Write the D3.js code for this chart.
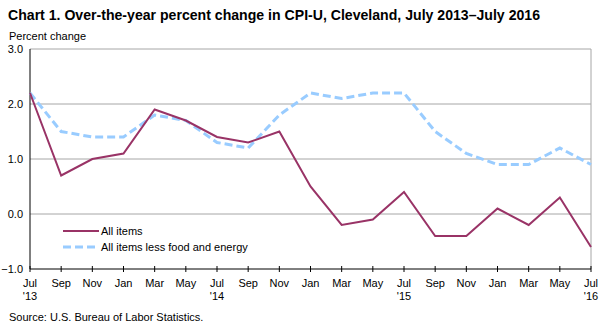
<!DOCTYPE html>
<html>
<head>
<meta charset="utf-8">
<script src="https://cdn.jsdelivr.net/npm/d3@7"></script>
<style>
  body { margin: 0; background: #fff; }
  svg { font-family: Arial, "Liberation Sans", sans-serif; }
</style>
</head>
<body>
<svg id="chart" width="607" height="326"></svg>
<script>
// Data, bi-monthly Jul 2013 - Jul 2016
const months = ["Jul", "Sep", "Nov", "Jan", "Mar", "May", "Jul", "Sep", "Nov", "Jan",
  "Mar", "May", "Jul", "Sep", "Nov", "Jan", "Mar", "May", "Jul"];
const years = ["'13", "", "", "", "", "", "'14", "", "", "", "", "", "'15", "", "", "", "", "", "'16"];
const allItems = [2.2, 0.7, 1.0, 1.1, 1.9, 1.7, 1.4, 1.3, 1.5, 0.5, -0.2, -0.1, 0.4, -0.4, -0.4, 0.1, -0.2, 0.3, -0.6];
const lessFoodEnergy = [2.2, 1.5, 1.4, 1.4, 1.8, 1.7, 1.3, 1.2, 1.8, 2.2, 2.1, 2.2, 2.2, 1.5, 1.1, 0.9, 0.9, 1.2, 0.9];
const yTicks = [-1, 0, 1, 2, 3];

const svg = d3.select("#chart");
const plotL = 30, plotR = 591, plotT = 49, plotB = 269;

const x = d3.scaleLinear().domain([0, months.length - 1]).range([plotL, plotR]);
const y = d3.scaleLinear().domain([-1, 3]).range([plotB, plotT]);

// Title (condensed like the original)
svg.append("text").attr("x", 8).attr("y", 20)
  .attr("font-size", 15).attr("font-weight", "bold")
  .attr("textLength", 532).attr("lengthAdjust", "spacingAndGlyphs")
  .text("Chart 1. Over-the-year percent change in CPI-U, Cleveland, July 2013\u2013July  2016");

svg.append("text").attr("x", 9).attr("y", 40).attr("font-size", 11).text("Percent change");

// Gridlines
svg.append("g").selectAll("line").data(yTicks.filter(d => d > -1))
  .join("line")
  .attr("x1", plotL).attr("x2", plotR)
  .attr("y1", d => y(d)).attr("y2", d => y(d))
  .attr("stroke", "#a6a6a6").attr("stroke-width", 1);

// right border
svg.append("line").attr("x1", plotR).attr("x2", plotR).attr("y1", plotT).attr("y2", plotB)
  .attr("stroke", "#a6a6a6");

// Y labels
svg.append("g").selectAll("text").data(yTicks)
  .join("text")
  .attr("x", 23).attr("y", d => y(d) + 4)
  .attr("text-anchor", "end").attr("font-size", 11)
  .text(d => d3.format(".1f")(d));

// Axes
svg.append("line").attr("x1", plotL).attr("x2", plotL).attr("y1", plotT).attr("y2", plotB)
  .attr("stroke", "#000").attr("stroke-width", 1);
svg.append("line").attr("x1", plotL).attr("x2", plotR).attr("y1", plotB).attr("y2", plotB)
  .attr("stroke", "#000").attr("stroke-width", 1);

svg.append("g").selectAll("line").data(months)
  .join("line")
  .attr("x1", (d, i) => x(i)).attr("x2", (d, i) => x(i))
  .attr("y1", plotB - 3).attr("y2", plotB + 3)
  .attr("stroke", "#000");

const xl = svg.append("g").attr("font-size", 11).attr("text-anchor", "middle");
xl.selectAll("text.m").data(months).join("text").attr("class", "m")
  .attr("x", (d, i) => x(i)).attr("y", 287).text(d => d);
xl.selectAll("text.yr").data(years).join("text").attr("class", "yr")
  .attr("x", (d, i) => x(i)).attr("y", 300).text(d => d);

// Lines
const line = d3.line().x((d, i) => x(i)).y(d => y(d));

svg.append("path").datum(lessFoodEnergy)
  .attr("d", line).attr("fill", "none")
  .attr("stroke", "#99ccff").attr("stroke-width", 3)
  .attr("stroke-dasharray", "8,4");

svg.append("path").datum(allItems)
  .attr("d", line).attr("fill", "none")
  .attr("stroke", "#993366").attr("stroke-width", 2);

// Legend
const lg = svg.append("g").attr("font-size", 11);
lg.append("line").attr("x1", 63).attr("x2", 99).attr("y1", 231).attr("y2", 231)
  .attr("stroke", "#993366").attr("stroke-width", 2);
lg.append("text").attr("x", 101).attr("y", 235).text("All items");
lg.append("line").attr("x1", 63).attr("x2", 99).attr("y1", 247).attr("y2", 247)
  .attr("stroke", "#99ccff").attr("stroke-width", 3).attr("stroke-dasharray", "8,4");
lg.append("text").attr("x", 101).attr("y", 251).text("All items less food and energy");

// Source
svg.append("text").attr("x", 9).attr("y", 321).attr("font-size", 11)
  .text("Source: U.S. Bureau of Labor Statistics.");
</script>
</body>
</html>
